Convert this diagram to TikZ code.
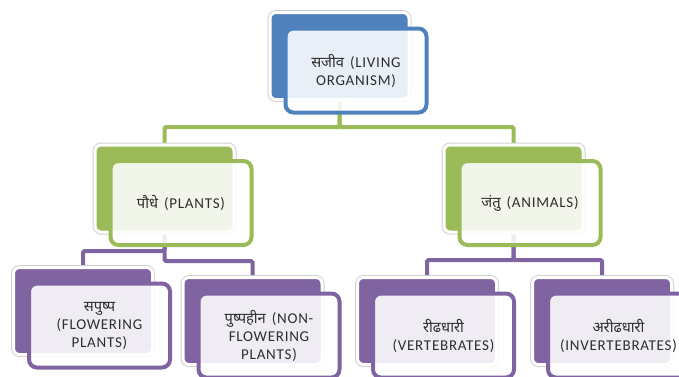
\documentclass[tikz,border=0pt]{standalone}
\usepackage{fontspec}
\setmainfont{Carlito}[LetterSpace=5]
\newfontfamily\dev[Script=Devanagari,Scale=0.98]{Noto Sans}
\definecolor{cblue}{HTML}{4F81BD}
\definecolor{cgreen}{HTML}{9BBB59}
\definecolor{cpurple}{HTML}{8064A2}
\definecolor{ctext}{HTML}{2E2E2E}
\newcommand{\gapx}{\hspace{6pt}}
\tikzset{
  backbox/.style={rectangle, rounded corners=6pt, minimum width=139pt, minimum height=87pt,
    inner sep=0pt, fill=#1, preaction={draw=black!18, line width=5pt}, draw=white, line width=3pt},
  frontbox/.style={rectangle, rounded corners=8pt, minimum width=141pt, minimum height=84pt,
    inner sep=0pt, fill=white, fill opacity=0.88, text opacity=1, draw=#1, line width=4pt,
    align=center, text=ctext, font=\fontsize{15}{18}\selectfont},
  anchorbox/.style={rectangle, minimum width=139pt, minimum height=87pt, inner sep=0pt},
  conn/.style={draw=#1, line width=4pt, rounded corners=1.5pt},
}
\begin{document}
\begin{tikzpicture}[x=1pt,y=-1pt]
\useasboundingbox (0,0) rectangle (679,376);
\clip (0,0) rectangle (679,376);
\coordinate (gy) at (0,127);
\coordinate (pyl) at (0,251);
\coordinate (pyr) at (0,261);
\coordinate (ay) at (0,260);
% place-holders of the back boxes, so that the connectors go under the boxes
\node[anchorbox] (topb0) at (339.5,56) {};
\node[anchorbox] (plantb0) at (164.5,188.5) {};
\node[anchorbox] (animb0) at (513.5,188.5) {};
\node[anchorbox] (sapb0) at (83,311) {};
\node[anchorbox] (pushb0) at (252.5,321) {};
\node[anchorbox] (ridhb0) at (427,321) {};
\node[anchorbox] (aridhb0) at (602,321) {};
% green connectors
\draw[conn=cgreen] (topb0.center) -- (topb0.center |- gy) -| (plantb0.center);
\draw[conn=cgreen] (topb0.center) -- (topb0.center |- gy) -| (animb0.center);
% purple connectors
\draw[conn=cpurple] (plantb0.center) -- (plantb0.center |- pyl) -| (sapb0.center);
\draw[conn=cpurple] (plantb0.center) -- (plantb0.center |- pyr) -| (pushb0.center);
\draw[conn=cpurple] (animb0.center) -- (animb0.center |- ay) -| (ridhb0.center);
\draw[conn=cpurple] (animb0.center) -- (animb0.center |- ay) -| (aridhb0.center);
% top
\node[backbox=cblue] (topb) at (topb0) {};
\node[frontbox=cblue] (topf) at (356,70.5) {{\dev सजीव}\gapx(LIVING\\ORGANISM)};
% level 2
\node[backbox=cgreen] (plantb) at (plantb0) {};
\node[frontbox=cgreen] (plantf) at (181,203) {{\dev पौधे}\gapx(PLANTS)};
\node[backbox=cgreen] (animb) at (animb0) {};
\node[frontbox=cgreen] (animf) at (530,203) {{\dev जंतु}\gapx(ANIMALS)};
% level 3
\node[backbox=cpurple] (sapb) at (sapb0) {};
\node[frontbox=cpurple] (sapf) at (99.5,325.5) {{\dev सपुष्प}\\(FLOWERING\\PLANTS)};
\node[backbox=cpurple] (pushb) at (pushb0) {};
\node[frontbox=cpurple] (pushf) at (269,335.5) {{\dev पुष्पहीन}\gapx(NON-\\FLOWERING\\PLANTS)};
\node[backbox=cpurple] (ridhb) at (ridhb0) {};
\node[frontbox=cpurple] (ridhf) at (443.5,335.5) {{\dev रीढधारी}\\(VERTEBRATES)};
\node[backbox=cpurple] (aridhb) at (aridhb0) {};
\node[frontbox=cpurple] (aridhf) at (618.5,335.5) {{\dev अरीढधारी}\\(INVERTEBRATES)};
\end{tikzpicture}
\end{document}
